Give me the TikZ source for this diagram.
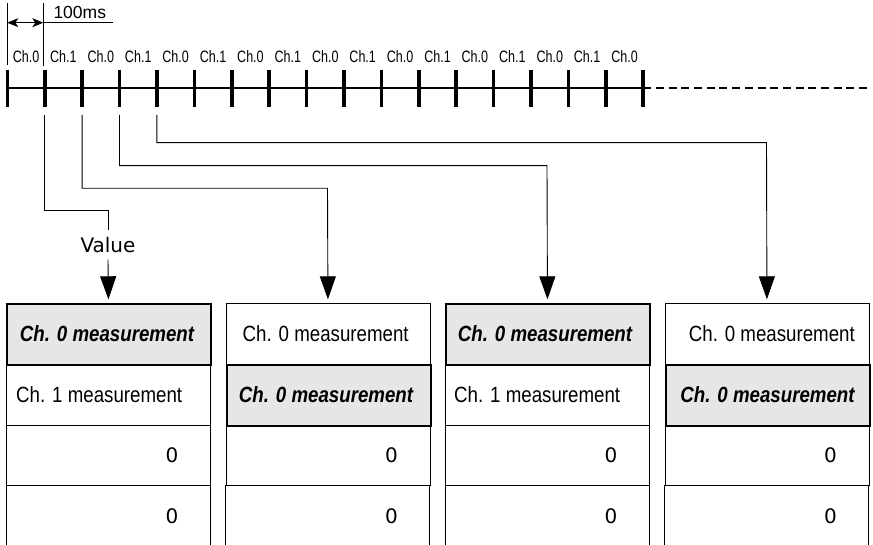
\documentclass[tikz,border=0pt]{standalone}
\usepackage{fontspec}
\setmainfont{Liberation Sans}
\newfontfamily\tickfont[FakeStretch=0.76]{Liberation Sans}
\newfontfamily\cellfont[FakeStretch=0.85]{Liberation Sans}
\newfontfamily\plainfont{DejaVu Sans}
\usetikzlibrary{arrows.meta}
\definecolor{cellgray}{HTML}{E6E6E6}

\begin{document}
\begin{tikzpicture}[x=1pt,y=-1pt,
  cell/.style={draw, line width=0.9pt, minimum width=204pt, minimum height=60.6pt,
               inner sep=0pt, anchor=north west},
  opencell/.style={minimum width=204pt, minimum height=60.6pt, inner sep=0pt, anchor=north west},
  hicell/.style={cell, fill=cellgray, line width=2.2pt},
  rtext/.style={font=\cellfont\fontsize{22}{22}\selectfont, inner sep=0pt},
  btext/.style={font=\cellfont\fontsize{22}{22}\selectfont\bfseries\itshape, inner sep=0pt},
  zero/.style={font=\plainfont\fontsize{20}{20}\selectfont, inner sep=0pt, anchor=east},
  ticklabel/.style={font=\tickfont\fontsize{16.5}{16.5}\selectfont, inner sep=0pt},
  tickmark/.style={line width=3.6pt},
  thin/.style={line width=0.8pt},
  feed/.style={line width=0.9pt},
  feedarrow/.style={feed, -{Triangle[width=16pt,length=23pt]}, shorten >=4pt},
  dim/.style={thin, {Stealth[length=11pt,width=9pt,inset=3pt]}-{Stealth[length=11pt,width=9pt,inset=3pt]}},
]
\useasboundingbox (0,0) rectangle (873,545);

% ---- time axis -------------------------------------------------------
\foreach \i in {0,...,17} {
  \coordinate (t\i) at ({7.3+37.41*\i},88);
}
\coordinate (axisend) at (870,88);
\draw[line width=1.2pt] (t0) -- (t17);
\draw[line width=1.2pt, dash pattern=on 8pt off 4.7pt] (t17) -- (axisend);
\foreach \i in {0,...,17} {
  \draw[tickmark] (t\i) ++(0,-18) -- ++(0,37);
}

% channel labels between the ticks
\foreach \i in {1,...,17} {
  \pgfmathsetmacro\lx{7.3+37.41*(\i-0.5)}
  \ifodd\i
    \node[ticklabel] (lab\i) at (\lx,56.5) {Ch.0};
  \else
    \node[ticklabel] (lab\i) at (\lx,56.5) {Ch.1};
  \fi
}

% ---- period dimension ------------------------------------------------
\coordinate (g0a) at (7.3,3.3);  \coordinate (g0b) at (7.3,65);
\coordinate (g1a) at (43.3,3.3); \coordinate (g1b) at (43.3,66);
\coordinate (d0) at (7.3,22.7);  \coordinate (d1) at (43.3,22.7);
\coordinate (d2) at (113,22.7);
\draw[thin] (g0a) -- (g0b);
\draw[thin] (g1a) -- (g1b);
\draw[dim] (d0) -- (d1);
\draw[thin] (d1) -- (d2);
\node[font=\fontsize{17.5}{17.5}\selectfont, inner sep=0pt, anchor=base west] (period) at (53.3,18.3) {100ms};

% ---- result blocks ---------------------------------------------------
\foreach \b/\lft in {1/6, 2/225.5, 3/445, 4/664.5} {
  \node[cell] (b\b r1) at (\lft,303.3) {};
  \node[cell] (b\b r2) at (\lft,363.9) {};
  \node[cell] (b\b r3) at (\lft,424.5) {};
  \node[opencell] (b\b r4) at (\lft,485.1) {};
  \draw[line width=0.9pt] (b\b r4.north west) -- (b\b r4.south west);
  \draw[line width=0.9pt] (b\b r4.north east) -- (b\b r4.south east);
}
% highlighted (latest Ch.0) cells drawn on top
\node[hicell] (h1) at (6,303.3) {};
\node[hicell] (h2) at (225.5,363.9) {};
\node[hicell] (h3) at (445,303.3) {};
\node[hicell] (h4) at (664.5,363.9) {};

% cell texts
\node[btext] (x11) at (107,333.6) {Ch. 0 measurement};
\node[rtext, anchor=west] (x12) at (16,394.2) {Ch. 1 measurement};
\node[rtext] (x21) at (325.7,333.6) {Ch. 0 measurement};
\node[btext] (x22) at (326,394.2) {Ch. 0 measurement};
\node[btext] (x31) at (545,333.6) {Ch. 0 measurement};
\node[rtext, anchor=west] (x32) at (454,394.2) {Ch. 1 measurement};
\node[rtext, anchor=east] (x41) at (855,333.6) {Ch. 0 measurement};
\node[btext] (x42) at (767.5,394.2) {Ch. 0 measurement};
\foreach \b/\zx in {1/178.5, 2/398, 3/617.5, 4/837} {
  \node[zero] (z\b a) at (\zx,455.5) {0};
  \node[zero] (z\b b) at (\zx,516) {0};
}

% ---- transfer lines --------------------------------------------------
\foreach \i in {1,...,4} {
  \coordinate (s\i) at ({7.3+37.41*\i},115);
}
\node[font=\plainfont\fontsize{20}{20}\selectfont, inner xsep=0pt, inner ysep=7pt,
      text height=15pt, text depth=0pt] (val) at (108,245) {Value};
\coordinate (k1) at (108,210.7);
\coordinate (k2) at (327.5,188.3);
\coordinate (k3) at (547,165.7);
\coordinate (k4) at (766.5,142.7);

\draw[feed] (s1) |- (k1) -- (val.north);
\draw[feedarrow] (val.south) -- (b1r1.north);
\draw[feedarrow] (s2) |- (k2) -- (b2r1.north);
\draw[feedarrow] (s3) |- (k3) -- (b3r1.north);
\draw[feedarrow] (s4) |- (k4) -- (b4r1.north);
\end{tikzpicture}
\end{document}
